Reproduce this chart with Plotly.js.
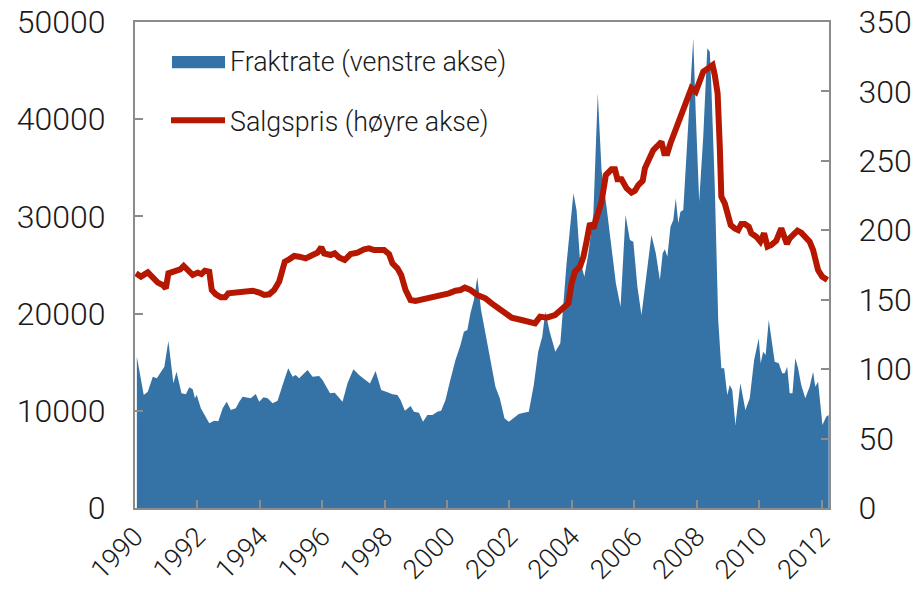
<!DOCTYPE html>
<html>
<head>
<meta charset="utf-8">
<script src="https://cdn.plot.ly/plotly-3.0.1.min.js"></script>
<style>html,body{margin:0;padding:0;background:#fff;}#chart{width:919px;height:592px;}</style>
</head>
<body>
<div id="chart"></div>
<script>
// Fraktrate (venstre akse) — decimal year, value
const fraktYear = [1990.06,1990.28,1990.41,1990.57,1990.70,1990.94,1991.07,1991.23,1991.33,1991.49,1991.63,1991.74,1991.85,1991.92,1991.98,1992.11,1992.38,1992.54,1992.67,1992.81,1992.94,1993.07,1993.23,1993.34,1993.45,1993.55,1993.71,1993.87,1993.98,1994.12,1994.25,1994.41,1994.57,1994.73,1994.91,1995.05,1995.15,1995.26,1995.53,1995.69,1995.90,1996.01,1996.25,1996.40,1996.65,1996.81,1997.00,1997.18,1997.39,1997.53,1997.71,1997.89,1998.09,1998.25,1998.41,1998.51,1998.65,1998.83,1998.94,1999.10,1999.23,1999.37,1999.53,1999.69,1999.81,1999.95,2000.09,2000.27,2000.43,2000.54,2000.65,2000.75,2000.86,2000.97,2001.09,2001.23,2001.39,2001.55,2001.69,2001.84,2001.98,2002.14,2002.30,2002.46,2002.62,2002.78,2002.92,2003.05,2003.15,2003.29,2003.47,2003.63,2003.83,2004.05,2004.15,2004.26,2004.40,2004.53,2004.69,2004.83,2004.95,2005.11,2005.27,2005.41,2005.56,2005.72,2005.86,2005.97,2006.10,2006.23,2006.37,2006.55,2006.69,2006.82,2006.91,2006.98,2007.06,2007.16,2007.25,2007.33,2007.41,2007.48,2007.57,2007.67,2007.80,2007.89,2007.97,2008.08,2008.21,2008.34,2008.42,2008.47,2008.58,2008.69,2008.79,2008.88,2008.98,2009.06,2009.14,2009.24,2009.40,2009.56,2009.70,2009.84,2009.99,2010.05,2010.13,2010.21,2010.31,2010.50,2010.63,2010.74,2010.82,2010.90,2010.98,2011.07,2011.16,2011.25,2011.35,2011.48,2011.62,2011.73,2011.80,2011.89,2012.03,2012.15,2012.23];
const fraktrate = [15570,11630,11970,13510,13340,14540,17180,12830,14030,11800,11700,12420,12210,11290,11630,10260,8710,8980,8920,10260,10940,10080,10260,10940,11450,11390,11290,11730,10940,11390,11290,10770,11040,12650,14370,13510,13680,13340,14200,13510,13580,13170,11800,11860,10940,12830,14270,13680,13170,12800,14090,12140,11900,11700,11630,11110,10010,10490,9910,9800,8880,9570,9570,9910,10010,11110,12990,15230,16770,18140,18310,20030,21400,23730,20370,17970,15570,12480,11290,9230,8880,9230,9670,9800,9910,12650,16080,17620,20200,18140,16080,16940,25170,32380,30660,25510,23800,26200,30320,42660,34770,31000,26880,23120,20710,30140,27570,27400,22770,19860,23460,28090,26200,23460,26200,26620,25850,28940,29630,31860,29290,30480,30660,36490,43350,48320,40610,31520,38200,47290,46950,43350,33060,19340,14370,14370,11630,12650,12140,8540,12830,10080,11290,15230,17460,14890,16080,15740,19340,15050,14890,13860,13860,14540,11800,11800,15400,14370,12650,11290,12480,14030,12480,12990,8540,9390,9570];

// Salgspris (høyre akse) — decimal year, value
const prisYear = [1990.03,1990.19,1990.41,1990.57,1990.73,1990.89,1990.99,1991.07,1991.26,1991.45,1991.56,1991.69,1991.85,1992.01,1992.13,1992.24,1992.38,1992.46,1992.59,1992.75,1992.89,1992.99,1993.18,1993.34,1993.55,1993.77,1993.98,1994.14,1994.30,1994.46,1994.62,1994.73,1994.80,1994.94,1995.10,1995.26,1995.47,1995.69,1995.85,1995.97,1996.06,1996.27,1996.40,1996.54,1996.72,1996.91,1997.13,1997.34,1997.50,1997.66,1997.85,1997.98,1998.14,1998.25,1998.41,1998.53,1998.67,1998.83,1998.99,1999.15,1999.37,1999.58,1999.79,2000.06,2000.27,2000.43,2000.57,2000.75,2000.97,2001.23,2001.43,2001.71,2001.93,2002.07,2002.39,2002.82,2002.98,2003.19,2003.46,2003.67,2003.89,2003.99,2004.10,2004.26,2004.37,2004.47,2004.58,2004.69,2004.83,2004.95,2005.09,2005.27,2005.38,2005.46,2005.59,2005.75,2005.91,2006.02,2006.13,2006.27,2006.34,2006.48,2006.61,2006.77,2006.87,2006.96,2007.06,2007.16,2007.30,2007.46,2007.59,2007.73,2007.83,2007.97,2008.10,2008.21,2008.37,2008.51,2008.58,2008.67,2008.74,2008.79,2008.90,2008.99,2009.09,2009.22,2009.33,2009.43,2009.54,2009.67,2009.75,2009.91,2010.04,2010.16,2010.27,2010.39,2010.55,2010.71,2010.80,2010.89,2010.98,2011.09,2011.23,2011.35,2011.51,2011.62,2011.73,2011.80,2011.89,2012.02,2012.19];
const salgspris = [169.0,166.6,169.7,165.4,162.3,160.6,158.2,169.0,170.7,171.9,174.3,170.9,167.8,169.5,168.5,170.9,170.2,157.0,153.9,151.7,151.7,154.6,155.3,155.8,156.5,156.5,155.1,153.4,153.9,157.0,163.0,171.4,177.4,179.1,181.5,181.0,179.8,182.2,183.9,187.8,183.4,182.2,183.4,180.5,178.6,182.9,183.9,186.3,187.0,185.8,186.3,185.8,182.9,176.2,172.6,167.8,157.0,149.8,149.1,149.8,151.0,152.2,153.4,154.6,156.5,157.0,158.7,157.0,153.4,151.0,147.4,142.6,139.0,137.1,135.4,133.0,137.8,137.1,139.0,142.6,147.4,161.8,170.2,173.8,181.0,191.8,205.0,201.4,211.0,220.6,239.8,243.9,243.9,236.7,236.7,230.3,227.1,228.5,232.6,235.7,244.6,250.6,257.8,261.4,263.8,255.5,255.5,262.7,271.0,280.6,286.6,297.4,302.3,299.8,308.2,314.2,316.7,319.0,311.8,298.7,260.2,224.2,219.4,209.8,203.8,201.4,200.2,204.5,204.5,202.6,197.8,195.4,191.8,197.8,188.2,189.4,192.5,201.4,196.6,190.1,194.2,196.6,199.7,198.3,195.0,191.8,185.8,177.4,171.4,166.6,164.2];

const xTicks = [1990,1992,1994,1996,1998,2000,2002,2004,2006,2008,2010,2012];
const xTickText = ['1990','1992','1994','1996','1998','2000','2002','2004','2006','2008','2010','2012'];
const legendNames = ['Fraktrate (venstre akse)', 'Salgspris (høyre akse)'];

const BLUE = '#3572a6';
const RED = '#b51700';
const AXIS = '#8c8c8c';
const FONT = {family: 'Roboto, "Liberation Sans", Arial, sans-serif', color: '#1a1a1a', weight: 300};

const traces = [
  {x: fraktYear, y: fraktrate, type: 'scatter', mode: 'lines', fill: 'tozeroy',
   fillcolor: BLUE, line: {width: 0, color: BLUE}, name: legendNames[0], showlegend: false, hoverinfo: 'x+y'},
  {x: prisYear, y: salgspris, type: 'scatter', mode: 'lines', yaxis: 'y2',
   line: {width: 6, color: RED}, name: legendNames[1], showlegend: false, hoverinfo: 'x+y'}
];

const axisCommon = {showgrid: false, zeroline: false, showline: true, linecolor: AXIS, linewidth: 2,
  ticks: 'inside', ticklen: 8, tickwidth: 2, tickcolor: AXIS};

const layout = {
  width: 919, height: 592,
  margin: {l: 135, r: 90, t: 22, b: 84},
  paper_bgcolor: '#ffffff', plot_bgcolor: '#ffffff',
  font: FONT,
  showlegend: false,
  xaxis: Object.assign({}, axisCommon, {range: [1990, 2012.24], tickvals: xTicks, ticktext: xTickText,
    tickangle: -45, tickfont: {size: 27, family: FONT.family, color: FONT.color, weight: 300}, mirror: true}),
  yaxis: Object.assign({}, axisCommon, {range: [0, 50000], dtick: 10000, tick0: 0, mirror: true,
    tickfont: {size: 32, family: FONT.family, color: FONT.color, weight: 300}, ticklabelstandoff: 21,
    separatethousands: false, tickformat: 'd'}),
  yaxis2: Object.assign({}, axisCommon, {range: [0, 350], dtick: 50, tick0: 0, overlaying: 'y', side: 'right',
    tickfont: {size: 32, family: FONT.family, color: FONT.color, weight: 300}, ticklabelstandoff: 21}),
  shapes: [
    {type: 'rect', xref: 'paper', yref: 'paper', x0: 0.0533, x1: 0.1297, y0: 0.905, y1: 0.930,
     fillcolor: BLUE, line: {width: 0}},
    {type: 'line', xref: 'paper', yref: 'paper', x0: 0.0519, x1: 0.1297, y0: 0.798, y1: 0.798,
     line: {color: RED, width: 6}}
  ],
  annotations: [
    {xref: 'paper', yref: 'paper', x: 0.1340, y: 0.9177, xanchor: 'left', yanchor: 'middle', showarrow: false,
     text: legendNames[0], font: {size: 26.8, family: FONT.family, color: FONT.color, weight: 300}},
    {xref: 'paper', yref: 'paper', x: 0.1340, y: 0.795, xanchor: 'left', yanchor: 'middle', showarrow: false,
     text: legendNames[1], font: {size: 26.8, family: FONT.family, color: FONT.color, weight: 300}}
  ]
};

Plotly.newPlot('chart', traces, layout, {displayModeBar: false, staticPlot: true});
</script>
</body>
</html>
